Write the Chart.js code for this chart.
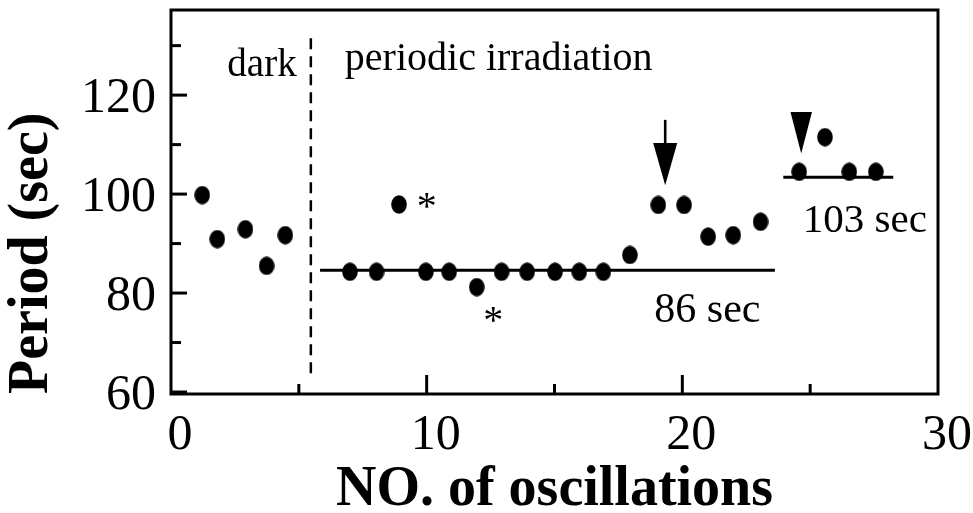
<!DOCTYPE html>
<html>
<head>
<meta charset="utf-8">
<script src="https://cdn.jsdelivr.net/npm/chart.js@4/dist/chart.umd.min.js"></script>
<style>
  html, body { margin: 0; padding: 0; background: #fff; }
  canvas { display: block; }
</style>
</head>
<body>
<canvas id="c" width="973" height="513"></canvas>
<script>
// ---------------- data ----------------
const darkX = [1.22, 1.81, 2.91, 3.74, 4.47];
const darkPeriod = [99.8, 90.9, 92.9, 85.5, 91.7];

const irradX = [7.00, 8.04, 8.92, 9.97, 10.88, 11.96, 12.93, 13.93, 15.02, 15.97, 16.91, 17.95, 19.06, 20.07, 21.01, 21.99, 23.06];
const irradPeriod = [84.3, 84.3, 97.9, 84.3, 84.3, 81.2, 84.3, 84.3, 84.3, 84.3, 84.3, 87.7, 97.8, 97.8, 91.4, 91.7, 94.4];

const afterX = [24.57, 25.58, 26.53, 27.57];
const afterPeriod = [104.5, 111.5, 104.5, 104.5];

const mean86X = [5.83, 23.62];
const mean86Y = [84.6, 84.6];
const mean103X = [23.95, 28.25];
const mean103Y = [103.4, 103.4];

const boundaryX = [5.47, 5.47];
const boundaryY = [63.8, 132.7];

const xTickValues = [0, 10, 20, 30];
const xMinorTicks = [5, 15, 25];
const yTickValues = [60, 80, 100, 120];
const yMinorTicks = [70, 90, 110, 130];

// annotation texts (data units, alphabetic baseline)
const noteText  = ['dark', 'periodic irradiation', '86 sec', '103 sec', '*', '*'];
const noteX     = [3.56, 6.80, 20.98, 27.14, 10.0, 12.6];
const noteY     = [123.9, 125.1, 74.2, 92.4, 95.0, 72.0];
const noteAlign = ['center', 'left', 'center', 'center', 'center', 'center'];
const noteSize  = [39, 40, 42, 41, 40, 40];

// arrows (data units): x, top of head, tip, shaft top (null = no shaft), half width
const arrowX      = [19.33, 24.65];
const arrowHeadTop = [110.3, 116.6];
const arrowTip    = [101.8, 108.2];
const arrowShaftTop = [115.0, null];
const arrowHalfW  = [0.47, 0.42];

// ---------------- helpers ----------------
const FONT = "'Liberation Serif', 'Times New Roman', Times, serif";
const toXY = (xs, ys) => xs.map((x, i) => ({ x: x, y: ys[i] }));

function makeDot() {
  const c = document.createElement('canvas');
  c.width = 16; c.height = 19;
  const g = c.getContext('2d');
  g.fillStyle = '#000';
  g.beginPath();
  g.ellipse(8, 9.5, 7.8, 9.2, 0, 0, Math.PI * 2);
  g.fill();
  return c;
}
const dot = makeDot();

const dotSet = (data) => ({
  type: 'scatter', data: data, showLine: false,
  pointStyle: dot, pointRadius: 8, pointHoverRadius: 8,
  backgroundColor: '#000', borderColor: '#000', order: 1
});
const lineSet = (data, width, dash) => ({
  type: 'scatter', data: data, showLine: true, fill: false,
  borderColor: '#000', borderWidth: width, borderDash: dash || [],
  pointRadius: 0, pointHoverRadius: 0, order: 2
});

const decorPlugin = {
  id: 'decor',
  afterDraw(chart) {
    const ctx = chart.ctx;
    const xs = chart.scales.x, ys = chart.scales.y;
    const a = chart.chartArea;
    ctx.save();
    ctx.strokeStyle = '#000';
    ctx.fillStyle = '#000';
    ctx.lineCap = 'butt';
    // frame
    ctx.lineWidth = 3;
    ctx.strokeRect(a.left, a.top, a.right - a.left, a.bottom - a.top);
    // inward y ticks
    const yTick = (v, len) => {
      const p = ys.getPixelForValue(v);
      ctx.beginPath(); ctx.moveTo(a.left, p); ctx.lineTo(a.left + len, p); ctx.stroke();
    };
    yTickValues.forEach(v => yTick(v, 16));
    yMinorTicks.forEach(v => yTick(v, 10));
    // inward x ticks
    const xTick = (v, len) => {
      const p = xs.getPixelForValue(v);
      ctx.beginPath(); ctx.moveTo(p, a.bottom); ctx.lineTo(p, a.bottom - len); ctx.stroke();
    };
    xTickValues.filter(v => v > xs.min && v < xs.max).forEach(v => xTick(v, 19));
    xMinorTicks.forEach(v => xTick(v, 10));
    // arrows
    arrowX.forEach((x, i) => {
      const px = xs.getPixelForValue(x);
      const hw = xs.getPixelForValue(x + arrowHalfW[i]) - px;
      const top = ys.getPixelForValue(arrowHeadTop[i]);
      const tip = ys.getPixelForValue(arrowTip[i]);
      if (arrowShaftTop[i] !== null) {
        ctx.lineWidth = 2.6;
        ctx.beginPath();
        ctx.moveTo(px, ys.getPixelForValue(arrowShaftTop[i]));
        ctx.lineTo(px, top + 1);
        ctx.stroke();
      }
      ctx.beginPath();
      ctx.moveTo(px - hw, top);
      ctx.lineTo(px + hw, top);
      ctx.lineTo(px, tip);
      ctx.closePath();
      ctx.fill();
    });
    // annotation texts
    ctx.textBaseline = 'alphabetic';
    noteText.forEach((t, i) => {
      ctx.font = noteSize[i] + 'px ' + FONT;
      ctx.textAlign = noteAlign[i];
      ctx.fillText(t, xs.getPixelForValue(noteX[i]), ys.getPixelForValue(noteY[i]));
    });
    ctx.restore();
  }
};

new Chart(document.getElementById('c'), {
  type: 'scatter',
  data: {
    datasets: [
      dotSet(toXY(darkX, darkPeriod)),
      dotSet(toXY(irradX, irradPeriod)),
      dotSet(toXY(afterX, afterPeriod)),
      lineSet(toXY(mean86X, mean86Y), 3),
      lineSet(toXY(mean103X, mean103Y), 3),
      lineSet(toXY(boundaryX, boundaryY), 2.5, [11, 7])
    ]
  },
  options: {
    responsive: false,
    animation: false,
    events: [],
    layout: { padding: { top: 10, right: 35, left: 0, bottom: 0 } },
    plugins: { legend: { display: false }, tooltip: { enabled: false } },
    scales: {
      x: {
        type: 'linear', min: 0, max: 30,
        afterFit(s) { s.height = 119; s.paddingLeft = 0; s.paddingRight = 0; },
        afterBuildTicks(s) { s.ticks = xTickValues.map(v => ({ value: v })); },
        grid: { display: false, drawTicks: false },
        border: { display: false },
        ticks: {
          color: '#000', font: { family: FONT, size: 50 },
          padding: 12, labelOffset: 9, maxRotation: 0, autoSkip: false
        },
        title: {
          display: true, text: 'NO. of oscillations', color: '#000',
          font: { family: FONT, size: 56, weight: 'bold', lineHeight: 0.8 },
          padding: { top: 0, bottom: 0.5 }
        }
      },
      y: {
        type: 'linear', min: 59.6, max: 137.2,
        afterFit(s) { s.width = 171; s.paddingTop = 0; s.paddingBottom = 0; },
        afterBuildTicks(s) { s.ticks = yTickValues.map(v => ({ value: v })); },
        grid: { display: false, drawTicks: false },
        border: { display: false },
        ticks: {
          color: '#000', font: { family: FONT, size: 50 },
          padding: 15, labelOffset: 4, autoSkip: false
        },
        title: {
          display: true, text: 'Period (sec)', color: '#000', align: 'start',
          font: { family: FONT, size: 56, weight: 'bold', lineHeight: 1 },
          padding: { top: 5, bottom: 0 }
        }
      }
    }
  },
  plugins: [decorPlugin]
});
</script>
</body>
</html>
